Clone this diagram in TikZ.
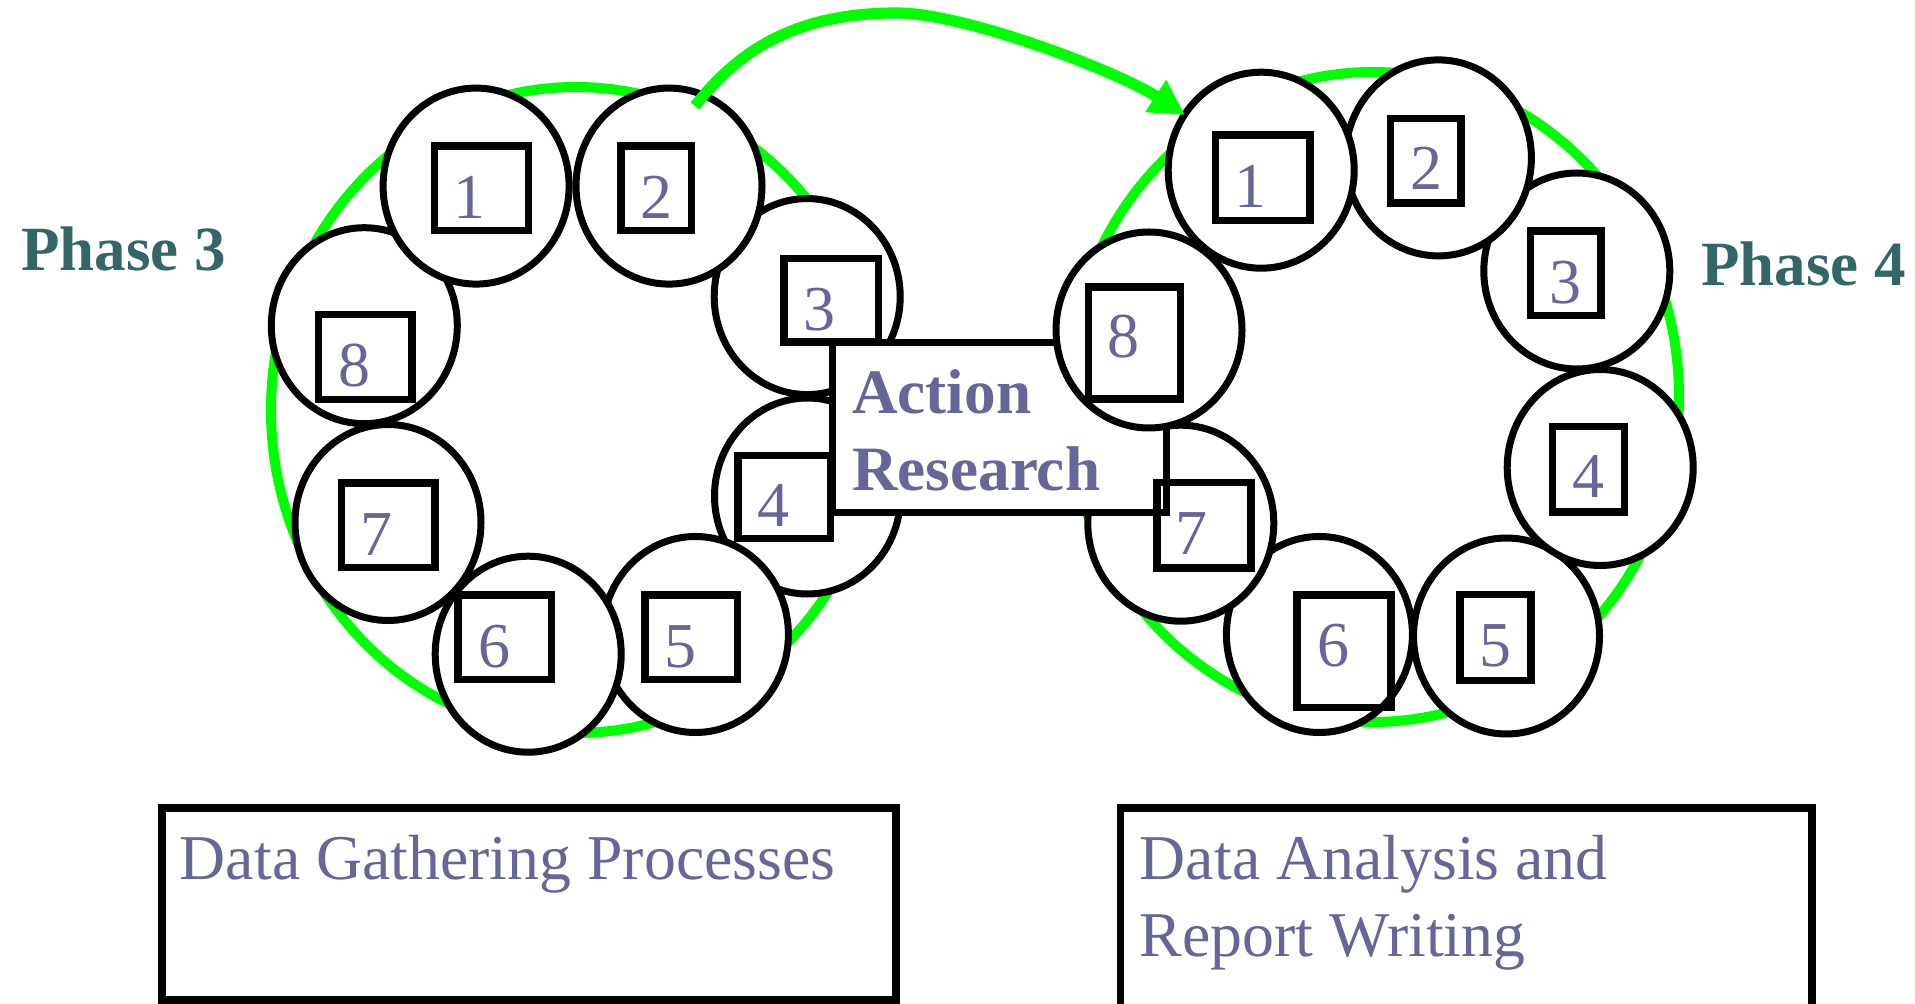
\documentclass[tikz,border=0pt]{standalone}
\usepackage{fontspec}
\setmainfont{Liberation Serif}
\usetikzlibrary{shapes.geometric,arrows.meta}
\definecolor{ringgreen}{RGB}{0,255,0}
\definecolor{slate}{RGB}{102,102,153}
\definecolor{tealph}{RGB}{51,102,102}
\begin{document}
\begin{tikzpicture}[x=0.5pt,y=-0.5pt,
  ring/.style={ellipse, draw=ringgreen, line width=5pt, inner sep=0pt, minimum width=305pt, minimum height=323pt},
  bub/.style={ellipse, draw=black, fill=white, line width=3.5pt, inner sep=0pt, minimum width=93pt, minimum height=98pt},
  sq/.style 2 args={rectangle, draw=black, line width=3.75pt, inner sep=0pt, minimum width=#1*0.5pt, minimum height=#2*0.5pt},
  num/.style={anchor=base, inner sep=0pt, text=slate, font=\fontsize{32pt}{38pt}\selectfont},
  phase/.style={anchor=base west, inner sep=0pt, text=tealph, font=\bfseries\fontsize{31.5pt}{38pt}\selectfont},
  artext/.style={anchor=base west, inner sep=0pt, text=slate, font=\bfseries\fontsize{31.6pt}{38pt}\selectfont},
  boxtext/.style={anchor=base west, inner sep=0pt, text=slate, font=\fontsize{31.9pt}{38pt}\selectfont},
  panel/.style 2 args={rectangle, draw=black, fill=white, line width=3.6pt, inner sep=0pt, minimum width=#1*0.5pt, minimum height=#2*0.5pt},
  arrowline/.style={draw=ringgreen, line width=5.6pt, -{Triangle[length=17.5pt,width=18pt]}}
]
\useasboundingbox (0,0) rectangle (1915,1004);
\clip (0,0) rectangle (1915,1004);
\fill[white] (0,0) rectangle (1915,1004);

% green rings
\node[ring] (gL) at (576,410) {};
\node[ring, minimum width=306pt, minimum height=325pt] (gR) at (1373,397) {};

% ---------- left ring (Phase 3) ----------
\node[bub] (L7) at (388,522.5) {};
\node[sq={93.5}{84.6}] (LS7) at (388.2,525.4) {};
\node[num] (LN7) at (376.1,555.5) {7};

\node[bub] (L4) at (807.5,496) {};
\node[sq={92.5}{83.1}] (LS4) at (784.2,497.1) {};
\node[num] (LN4) at (773,526.5) {4};

\node[bub] (L3) at (807.2,296.6) {};
\node[sq={94.3}{83.7}] (LS3) at (831.1,300.4) {};
\node[num] (LN3) at (819.3,330.1) {3};

\node[bub] (L2) at (669,186.1) {};
\node[sq={70.7}{84.5}] (LS2) at (656.3,188.4) {};
\node[num] (LN2) at (656.8,218.5) {2};

\node[bub] (L8) at (364.3,325.7) {};
\node[sq={93.5}{85}] (LS8) at (365,356.9) {};
\node[num] (LN8) at (354.5,386.8) {8};

\node[bub] (L1) at (476.1,186.1) {};
\node[sq={94.3}{84.5}] (LS1) at (481.5,188.4) {};
\node[num] (LN1) at (469.9,218.5) {1};

\node[bub] (L5) at (695.4,634.5) {};
\node[sq={92.6}{84.5}] (LS5) at (691.3,637.1) {};
\node[num] (LN5) at (680,667.5) {5};

\node[bub] (L6) at (528.2,654.2) {};
\node[sq={93.4}{84.5}] (LS6) at (504.7,637.1) {};
\node[num] (LN6) at (494.2,667.3) {6};

% ---------- right ring (Phase 4), lower layers ----------
\node[bub] (R5) at (1506.5,636) {};
\node[sq={71.1}{85.5}] (RS5) at (1495.4,637.5) {};
\node[num] (RN5) at (1495,666) {5};

\node[bub] (R4) at (1600.2,467.5) {};
\node[sq={72}{85.4}] (RS4) at (1588.6,469.2) {};
\node[num] (RN4) at (1588.4,497.5) {4};

\node[bub] (R3) at (1576.8,271) {};
\node[sq={70.7}{84.5}] (RS3) at (1565.7,273.3) {};
\node[num] (RN3) at (1565.6,303.4) {3};

\node[bub] (R2) at (1438.4,157.9) {};
\node[sq={70.3}{84.5}] (RS2) at (1425.7,160.8) {};
\node[num] (RN2) at (1426.1,189.6) {2};

\node[bub] (R6) at (1319.4,634.5) {};
\node[sq={94.3}{112.7}] (RS6) at (1344,651.2) {};
\node[num] (RN6) at (1333.2,666.5) {6};

\node[bub] (R7) at (1180.8,523.2) {};

% ---------- Action Research box ----------
\node[panel={334.2}{170}, line width=3.3pt] (AR) at (999.6,427.5) {};
\node[artext] (ART1) at (851.7,413.3) {Action};
\node[artext] (ART2) at (851.7,490.7) {Research};

% ---------- right ring, upper layers ----------
\node[sq={93.9}{85.5}] (RS7) at (1204.1,525.1) {};
\node[num] (RN7) at (1191.7,554.3) {7};

\node[bub] (R8) at (1149,330) {};
\node[sq={92.1}{112.2}] (RS8) at (1134.4,342.9) {};
\node[num] (RN8) at (1123.5,358) {8};

\node[bub] (R1) at (1261.2,170.2) {};
\node[sq={94.4}{85.4}] (RS1) at (1262.7,177.7) {};
\node[num] (RN1) at (1250.4,207.2) {1};

% ---------- phase labels ----------
\node[phase] (P3) at (20.7,271) {Phase 3};
\node[phase] (P4) at (1700.7,285.7) {Phase 4};

% ---------- bottom panels ----------
\node[panel={734}{192}] (B1) at (529,904) {};
\node[boxtext] (B1T) at (179.5,879) {Data Gathering Processes};
\node[panel={691.5}{200}] (B2) at (1466.25,908) {};
\node[boxtext] (B2T1) at (1139.5,879) {Data Analysis and};
\node[boxtext] (B2T2) at (1139.5,956) {Report Writing};

% ---------- arrow from phase 3 to phase 4 ----------
\coordinate (aS) at (695,106);
\coordinate (aM) at (897,13);
\coordinate (aE) at (1185,115);
\draw[arrowline] (aS) .. controls (741,47) and (800,13) .. (aM)
  .. controls (965,13) and (1117.8,71.4) .. (aE);
\end{tikzpicture}
\end{document}
